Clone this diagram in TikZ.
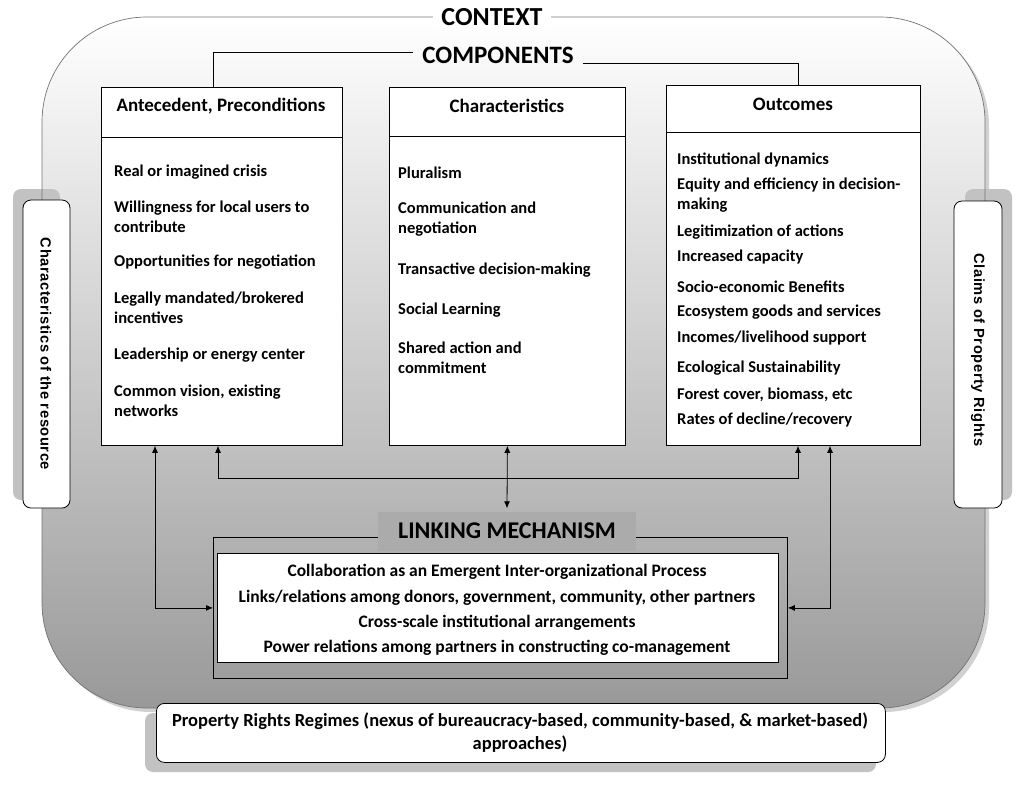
\documentclass[tikz,border=0pt]{standalone}
\usepackage{fontspec}
\setmainfont{Carlito}
\newfontfamily\sidefont[LetterSpace=4]{Liberation Sans}
\usetikzlibrary{arrows.meta,calc}
\begin{document}
\begin{tikzpicture}[x=1pt,y=-1pt,
  box/.style={draw=black, fill=white, line width=0.8pt, anchor=north west, inner sep=0pt},
  item/.style={anchor=west, font=\bfseries\fontsize{16.5}{20}\selectfont, align=left, inner sep=0pt},
  head/.style={font=\bfseries\fontsize{19}{21}\selectfont, inner sep=0pt},
  big/.style={font=\bfseries\fontsize{26}{28}\selectfont},
  ltext/.style={font=\bfseries\fontsize{17.5}{20}\selectfont, inner sep=0pt},
  side/.style={draw=black, fill=white, line width=0.8pt, rounded corners=8pt},
  shadowbox/.style={fill=black!24, rounded corners=8pt},
  sidetext/.style={font=\sidefont\bfseries\fontsize{14.7}{16}\selectfont, rotate=-90},
  link/.style={line width=0.8pt, {Latex[length=7pt,width=6pt]}-{Latex[length=7pt,width=6pt]}},
  plain/.style={line width=0.8pt}
]
\useasboundingbox (0,0) rectangle (1024,785);
% context background
\fill[black!18, rounded corners=105pt] (46,21) rectangle (989,712);
\shade[rounded corners=105pt, top color=white, middle color=black!17, bottom color=black!40] (42,17) rectangle (985,708);
% shadows
\fill[shadowbox] (13,189) rectangle (60,500);
\fill[shadowbox] (965,189) rectangle (1012,500);
\fill[shadowbox] (145,713) rectangle (876,772);
\draw[black!55, line width=0.7pt, rounded corners=105pt] (42,17) rectangle (985,708);
% side boxes
\draw[side] (23,200) rectangle (70,508);
\node[sidetext] (res) at (46,354) {Characteristics of the resource};
\draw[side] (954,201) rectangle (1002,508);
\node[sidetext] (claims) at (978,350) {Claims of Property Rights};
% bottom box
\node[side, anchor=north west, minimum width=729pt, minimum height=59pt, inner sep=0pt] (prr) at (156,703) {};
\node[font=\bfseries\fontsize{18.5}{23}\selectfont, align=center, inner sep=0pt] (prrtext) at (520,733) {Property Rights Regimes (nexus of bureaucracy-based, community-based, \& market-based)\\approaches)};
% title labels
\node[big, fill=white, inner xsep=8pt, inner ysep=0pt] (context) at (492,17) {CONTEXT};
\node[big, font=\bfseries\fontsize{25}{28}\selectfont, inner xsep=0pt] (comp) at (498,55) {COMPONENTS};
% component boxes
\node[box, minimum width=241pt, minimum height=358pt] (ante) at (101,87) {};
\node[box, minimum width=236pt, minimum height=358pt] (char) at (389,87) {};
\node[box, minimum width=254pt, minimum height=360pt] (outc) at (666,85) {};
\draw[plain] ($(ante.north west)+(0,50)$) -- ($(ante.north east)+(0,50)$);
\draw[plain] ($(char.north west)+(0,49)$) -- ($(char.north east)+(0,49)$);
\draw[plain] ($(outc.north west)+(0,47)$) -- ($(outc.north east)+(0,47)$);
\node[head] (anteh) at (221,106) {Antecedent, Preconditions};
\node[head] (charh) at (507,106) {Characteristics};
\node[head] (outch) at (793,104) {Outcomes};
% components connectors
\draw[plain] ($(comp.west)+(-9,-3)$) -| ($(ante.north west)+(112,0)$);
\draw[plain] ($(comp.east)+(9,8)$) -| ($(outc.north west)+(132,0)$);
% antecedent items
\node[item] (a1) at (114,172) {Real or imagined crisis};
\node[item] (a2) at (114,217) {Willingness for local users to\\contribute};
\node[item] (a3) at (114,262) {Opportunities for negotiation};
\node[item] (a4) at (114,308) {Legally mandated/brokered\\incentives};
\node[item] (a5) at (114,355) {Leadership or energy center};
\node[item] (a6) at (114,401) {Common vision, existing\\networks};
% characteristics items
\node[item] (c1) at (398,173) {Pluralism};
\node[item] (c2) at (398,219) {Communication and\\negotiation};
\node[item] (c3) at (398,270) {Transactive decision-making};
\node[item] (c4) at (398,310) {Social Learning};
\node[item] (c5) at (398,358) {Shared action and\\commitment};
% outcome items
\node[item] (o1) at (677,160) {Institutional dynamics};
\node[item] (o2) at (677,195) {Equity and efficiency in decision-\\making};
\node[item] (o3) at (677,232) {Legitimization of actions};
\node[item] (o4) at (677,257) {Increased capacity};
\node[item] (o5) at (677,287) {Socio-economic Benefits};
\node[item] (o6) at (677,312) {Ecosystem goods and services};
\node[item] (o7) at (677,338) {Incomes/livelihood support};
\node[item] (o8) at (677,368) {Ecological Sustainability};
\node[item] (o9) at (677,395) {Forest cover, biomass, etc};
\node[item] (o10) at (677,420) {Rates of decline/recovery};
% linking mechanism
\node[draw=black, line width=0.8pt, anchor=north west, minimum width=574pt, minimum height=141pt, inner sep=0pt] (lm) at (213,537) {};
\node[fill=black!33, minimum width=258pt, minimum height=39pt, inner sep=0pt, font=\bfseries\fontsize{24}{26}\selectfont] (lab) at (507,531) {LINKING MECHANISM};
\node[box, minimum width=561pt, minimum height=109pt] (inner) at (217,553) {};
\node[ltext] (l1) at (497,572) {Collaboration as an Emergent Inter-organizational Process};
\node[ltext] (l2) at (497,598) {Links/relations among donors, government, community, other partners};
\node[ltext] (l3) at (497,623) {Cross-scale institutional arrangements};
\node[ltext] (l4) at (497,648) {Power relations among partners in constructing co-management};
% connectors
\draw[link] ($(ante.south west)+(54,0)$) |- (lm.west);
\draw[link] ($(ante.south west)+(117,0)$) -- ++(0,33) -| ($(outc.south west)+(132,0)$);
\draw[link] (char.south) -- ([yshift=3pt]lab.north);
\draw[link] ($(outc.south west)+(164,0)$) |- (lm.east);
\end{tikzpicture}
\end{document}
